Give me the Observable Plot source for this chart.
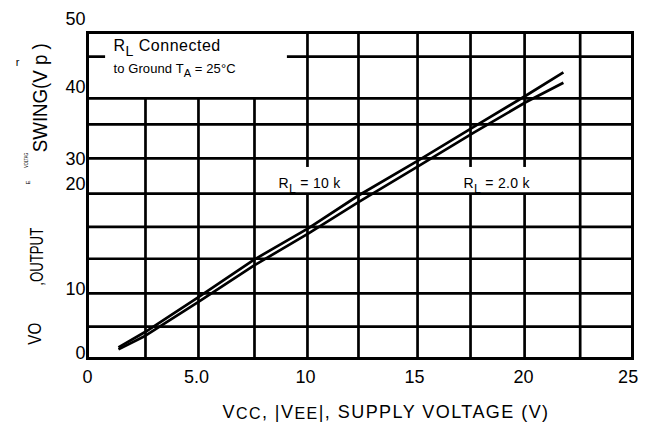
<!DOCTYPE html>
<html><head><meta charset="utf-8">
<script src="https://cdn.jsdelivr.net/npm/d3@7"></script>
<script src="https://cdn.jsdelivr.net/npm/@observablehq/plot@0.6"></script>
<style>body{margin:0;background:#fff;} svg{display:block}</style>
</head><body>
<script>
// ---- data ----
const vcc      = [1.42, 2.66, 5.09, 7.61, 10.14, 12.43, 15.18, 17.7, 20.1, 21.83];
const swing10k = [1.7, 4.1, 9.4, 15.1, 20.0, 25.0, 30.4, 35.5, 40.3, 43.9];
const swing2k  = [1.4, 3.5, 8.7, 14.2, 19.2, 24.0, 29.5, 34.6, 39.3, 42.3];

// x tick labels
const xTickValues = [0, 5, 10, 15, 20, 24.8];
const xTickLabels = ["0", "5.0", "10", "15", "20", "25"];
// y tick labels (as printed, irregular)
const yTickValues = [0.8, 10.6, 26.8, 30.5, 41.6, 52.1];
const yTickLabels = ["0", "10", "20", "30", "40", "50"];

// grid segments
const vSegX  = [2.66, 5.09, 7.66, 10.09, 10.09, 12.43, 15.14, 17.57, 17.57, 20.05, 20.05, 22.6];
const vSegY1 = [0, 0, 0, 0, 29.3, 0, 0, 0, 29.3, 0, 29.3, 0];
const vSegY2 = [39.9, 39.9, 39.9, 25.3, 50, 50, 50, 25.3, 50, 25.3, 50, 50];
const hSegY  = [46.3, 46.3, 39.9, 35.9, 30.7, 25.3, 20.2, 15.3, 10.0, 4.9];
const hSegX1 = [0, 9.17, 0, 0, 0, 0, 0, 0, 0, 0];
const hSegX2 = [0.83, 25, 25, 25, 25, 25, 25, 25, 25, 25];

// annotations
const noteText = ["R_{L} Connected", "to Ground T_{A} = 25°C", "R_{L} = 10 k", "R_{L} = 2.0 k"];
const noteX = [1.19, 1.19, 8.76, 17.25];
const noteY = [47.2, 43.8, 26.1, 26.1];
const noteSize = [16, 13, 14, 14];

// garbled rotated y title pieces
const yTitleText = ["VO", ",OUTPUT", "VOLTAG", "E", "SWING(V p )"];
const yTitleX = [-2.39, -2.34, -2.8, -2.72, -2.16];
const yTitleY = [3.8, 15.6, 30.4, 27.0, 40.0];
const yTitleSize = [19, 19, 6, 6, 20];
const yTitleLen = [22, 58, 15, 4, 109];
const strayText = ["r"];
const strayX = [-3.21];
const strayY = [45.4];

const xTitle = "V_{CC}, |V_{EE}|, SUPPLY VOLTAGE (V)";
const xTitleX = 6.19;
const xTitleY = -9.05;

// styles for subscript texts
const textStyle = {
  [xTitle]: {ls: 1.45, sub: 0.89, shift: 1.5},
  "R_{L} Connected": {ls: 0.5, sub: 0.88, shift: 5},
  "to Ground T_{A} = 25°C": {ls: 0.1, sub: 0.85, shift: 4},
  "R_{L} = 10 k": {ls: 0.3, sub: 0.88, shift: 5},
  "R_{L} = 2.0 k": {ls: 0.3, sub: 0.88, shift: 5}
};

const lineData = vcc.map((x, i) => ({x, y: swing10k[i], s: "10k"}))
  .concat(vcc.map((x, i) => ({x, y: swing2k[i], s: "2k"})));
const vSeg = vSegX.map((x, i) => ({x, y1: vSegY1[i], y2: vSegY2[i]}));
const hSeg = hSegY.map((y, i) => ({y, x1: hSegX1[i], x2: hSegX2[i]}));
const xTicks = xTickValues.map((v, i) => ({v, t: xTickLabels[i]}));
const yTicks = yTickValues.map((v, i) => ({v, t: yTickLabels[i]}));
const notes = noteText.map((t, i) => ({t, x: noteX[i], y: noteY[i], s: noteSize[i]}));
const yTitle = yTitleText.map((t, i) => ({t, x: yTitleX[i], y: yTitleY[i], s: yTitleSize[i]}));
const stray = strayText.map((t, i) => ({t, x: strayX[i], y: strayY[i]}));

const plot = Plot.plot({
  width: 650, height: 422,
  marginLeft: 87, marginRight: 18, marginTop: 32, marginBottom: 64,
  x: {domain: [0, 25], axis: null},
  y: {domain: [0, 50], axis: null},
  style: {fontFamily: "'Liberation Sans', Arial, sans-serif", background: "white", color: "black", overflow: "visible"},
  marks: [
    Plot.ruleX(vSeg, {x: "x", y1: "y1", y2: "y2", stroke: "black", strokeWidth: 2.7}),
    Plot.ruleY(hSeg, {y: "y", x1: "x1", x2: "x2", stroke: "black", strokeWidth: 2.7}),
    Plot.frame({stroke: "black", strokeWidth: 3}),
    Plot.line(lineData, {x: "x", y: "y", z: "s", stroke: "black", strokeWidth: 2.7, strokeLinecap: "butt"}),
    Plot.text(xTicks, {x: "v", text: "t", frameAnchor: "bottom", dy: 19, fontSize: 18, lineAnchor: "middle", fill: "black"}),
    Plot.text(yTicks, {x: 0, y: "v", text: "t", dx: -2, textAnchor: "end", fontSize: 18, lineAnchor: "middle", fill: "black"}),
    Plot.text(notes, {x: "x", y: "y", text: "t", fontSize: "s", textAnchor: "start", lineAnchor: "bottom", fill: "black"}),
    Plot.text(yTitle, {x: "x", y: "y", text: "t", fontSize: "s", rotate: -90, lineAnchor: "middle", fill: "black"}),
    Plot.text(stray, {x: "x", y: "y", text: "t", fontSize: 11, lineAnchor: "middle", fill: "black"}),
    Plot.text([xTitle], {x: xTitleX, y: xTitleY, text: d => d, fontSize: 18, textAnchor: "start", lineAnchor: "bottom", fill: "black"})
  ]
});
document.body.appendChild(plot);

// post-process: subscripts, spacing, text lengths
const lenMap = {};
yTitleText.forEach((t, i) => lenMap[t] = yTitleLen[i]);
d3.select(plot).selectAll("text").each(function() {
  const raw = this.textContent;
  if (lenMap[raw] !== undefined) {
    this.setAttribute("textLength", lenMap[raw]);
    this.setAttribute("lengthAdjust", "spacingAndGlyphs");
  }
  const cfg = textStyle[raw];
  if (!cfg) return;
  const fs = parseFloat(getComputedStyle(this).fontSize);
  this.style.letterSpacing = cfg.ls + "px";
  const parts = raw.split(/(_\{[^}]*\})/).filter(Boolean);
  this.textContent = "";
  let down = false;
  for (const p of parts) {
    const ts = document.createElementNS("http://www.w3.org/2000/svg", "tspan");
    if (p.startsWith("_{")) {
      ts.textContent = p.slice(2, -1);
      ts.setAttribute("font-size", fs * cfg.sub);
      ts.setAttribute("dy", cfg.shift);
      down = true;
    } else {
      ts.textContent = p;
      if (down) { ts.setAttribute("dy", -cfg.shift); down = false; }
    }
    this.appendChild(ts);
  }
});
</script>
</body></html>
